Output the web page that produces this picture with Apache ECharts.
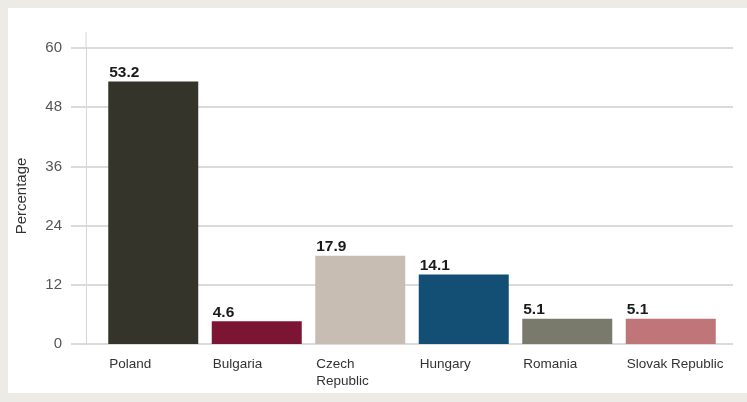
<!DOCTYPE html>
<html>
<head>
<meta charset="utf-8">
<script src="https://cdn.jsdelivr.net/npm/echarts@6/dist/echarts.min.js"></script>
<style>
html,body{margin:0;padding:0;background:#ecebe6;}
#chart{width:747px;height:402px;}
</style>
</head>
<body>
<div id="chart"></div>
<script>
const categories = ['Poland', 'Bulgaria', 'Czech\nRepublic', 'Hungary', 'Romania', 'Slovak Republic'];
const values = [53.2, 4.6, 17.9, 14.1, 5.1, 5.1];
const barColors = ['#35342b', '#7c1433', '#c8bdb2', '#134f75', '#7a7a6c', '#c07579'];
const yTicks = [0, 12, 24, 36, 48, 60];

const chart = echarts.init(document.getElementById('chart'), null, {renderer: 'canvas'});
const font = '"Liberation Sans", Arial, sans-serif';
const gridColor = '#cfcfcf';

chart.setOption({
  backgroundColor: '#ecebe6',
  animation: false,
  textStyle: {fontFamily: font},
  graphic: [
    {type: 'rect', z: -100, shape: {x: 8, y: 8, width: 739, height: 385}, style: {fill: '#ffffff'}},
    {type: 'line', z: 5, shape: {x1: 86, y1: 32, x2: 86, y2: 48}, style: {stroke: '#d6d6d6', lineWidth: 1}}
  ],
  grid: [
    {left: 86, right: 14, top: 48, bottom: 58},
    {left: 101.5, right: 24.5, top: 48, bottom: 58}
  ],
  xAxis: [
    {gridIndex: 0, type: 'category', data: categories, show: false},
    {
      gridIndex: 1, type: 'category', data: categories,
      axisLine: {show: false}, axisTick: {show: false},
      axisLabel: {
        interval: 0, align: 'left', padding: [0, 0, 0, -44], margin: 12,
        fontSize: 13.5, color: '#333', lineHeight: 17, fontFamily: font
      }
    }
  ],
  yAxis: [
    {
      gridIndex: 0, type: 'value', min: yTicks[0], max: yTicks[yTicks.length - 1], interval: yTicks[1] - yTicks[0],
      name: 'Percentage', nameLocation: 'middle', nameGap: 57,
      nameTextStyle: {fontSize: 15, color: '#333', fontFamily: font},
      axisLine: {show: true, lineStyle: {color: '#d6d6d6', width: 1}},
      axisTick: {show: true, length: 15, lineStyle: {color: gridColor, width: 1.5}},
      axisLabel: {margin: 24, fontSize: 15, color: '#555', fontFamily: font},
      splitLine: {show: true, lineStyle: {color: gridColor, width: 1.5}}
    },
    {gridIndex: 1, type: 'value', min: yTicks[0], max: yTicks[yTicks.length - 1], show: false, splitLine: {show: false}}
  ],
  series: [{
    type: 'bar',
    xAxisIndex: 1, yAxisIndex: 1,
    barWidth: 90,
    data: values.map((v, i) => ({value: v, itemStyle: {color: barColors[i]}})),
    label: {
      show: true, position: [1, -1], align: 'left', verticalAlign: 'bottom',
      fontSize: 15.5, fontWeight: 'bold', color: '#1a1a1a', fontFamily: font
    }
  }]
});
</script>
</body>
</html>
